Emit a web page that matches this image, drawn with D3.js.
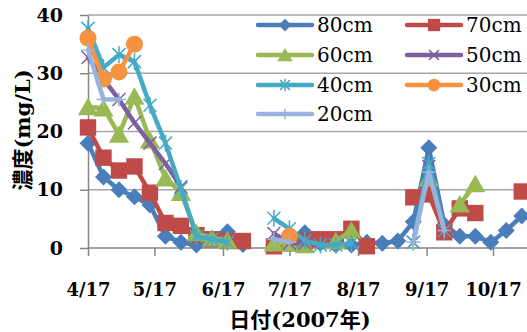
<!DOCTYPE html>
<html>
<head>
<meta charset="utf-8">
<script src="https://cdn.jsdelivr.net/npm/d3@7"></script>
<style>
  html, body { margin: 0; background: #fff; }
  svg { display: block; }
</style>
</head>
<body>
<svg id="chart" width="527" height="332"></svg>
<script>
// weekly sampling dates
const sampleDates = [
  "2007-04-17", "2007-04-24", "2007-05-01", "2007-05-08", "2007-05-15", "2007-05-22", "2007-05-29",
  "2007-06-05", "2007-06-12", "2007-06-19", "2007-06-26", "2007-07-03", "2007-07-10", "2007-07-17",
  "2007-07-24", "2007-07-31", "2007-08-07", "2007-08-14", "2007-08-21", "2007-08-28", "2007-09-04",
  "2007-09-11", "2007-09-18", "2007-09-25", "2007-10-02", "2007-10-09", "2007-10-16", "2007-10-23",
  "2007-10-30"
];
const tickDates = ["2007-04-17", "2007-05-17", "2007-06-17", "2007-07-17", "2007-08-17", "2007-09-17", "2007-10-17"];
const yTicks = [0, 10, 20, 30, 40];

// concentration (mg/L) by depth, null = no sample
const conc80 = [18, 12.2, 10, 8.8, 7.4, 2, 1, 0.5, 1.5, 2.8, 0.6, null, 0.5, 1, 2.6, 0.8, 0.5, 0.5, 1, 0.8, 1.2, 4.5, 17.2, 4, 2, 2, 1, 3, 5.5];
const conc70 = [20.7, 15.5, 13.3, 14, 9.5, 4.3, 3.8, 2.2, 1.5, 1.2, 1.2, null, 0.3, 0.8, 1.2, 1.5, 1.5, 3.3, 0.3, null, null, 8.7, 9.2, 2.7, 6.8, 6, null, null, 9.7];
const conc60 = [24.2, 24, 19.5, 26, 18.5, 12, 9.5, 2.6, 1.7, 1.3, null, null, 0.8, 0.8, 0.5, null, 1.2, 3, null, null, null, null, 12, null, 7.5, 11, null, null, null];
const conc50 = [32.7, 29, 25.5, 21.5, 18, 14.5, 10.5, null, null, null, null, null, 2.5, 0.8, 0.8, null, null, null, null, null, null, 1, 14, null, null, null, null, null, null];
const conc40 = [37.7, 31, 33.2, 32, 24.5, 18, 10.2, 2, 1.5, 1, null, null, 5.1, 3.3, 1.3, 0.5, 0.5, 0.8, null, null, null, 1, 14.5, 3, null, null, null, null, null];
const conc30 = [36, 29, 30.2, 35, null, null, null, null, null, null, null, null, null, 2, null, null, null, null, null, null, null, null, null, null, null, null, null, null, null];
const conc20 = [34, 25.5, 25.5, null, null, null, null, null, null, null, null, null, 1.5, 1, null, null, null, null, null, null, null, 1, 13, 3, null, null, null, null, null];

const depthLabels = ["80cm", "70cm", "60cm", "50cm", "40cm", "30cm", "20cm"];

// marker shapes (Excel style)
const diamond = { draw(ctx, s) { const r = s; ctx.moveTo(0, -r); ctx.lineTo(r, 0); ctx.lineTo(0, r); ctx.lineTo(-r, 0); ctx.closePath(); } };
const square = { draw(ctx, s) { const r = s; ctx.rect(-r, -r, 2 * r, 2 * r); } };
const triangle = { draw(ctx, s) { const r = s; ctx.moveTo(0, -r); ctx.lineTo(r * 1.1, r * 0.9); ctx.lineTo(-r * 1.1, r * 0.9); ctx.closePath(); } };
const xMark = { draw(ctx, s) { const r = s; ctx.moveTo(-r, -r); ctx.lineTo(r, r); ctx.moveTo(r, -r); ctx.lineTo(-r, r); } };
const star = { draw(ctx, s) { const r = s; xMark.draw(ctx, s); ctx.moveTo(0, -r * 1.3); ctx.lineTo(0, r * 1.3); } };
const circle = { draw(ctx, s) { ctx.moveTo(s, 0); ctx.arc(0, 0, s, 0, 2 * Math.PI); } };
const plus = { draw(ctx, s) { const r = s; ctx.moveTo(-r, 0); ctx.lineTo(r, 0); ctx.moveTo(0, -r); ctx.lineTo(0, r); } };

const series = [
  { name: depthLabels[0], values: conc80, color: "#4a7ebb", shape: diamond, size: 8.5, filled: true },
  { name: depthLabels[1], values: conc70, color: "#be4b48", shape: square, size: 8.2, filled: true },
  { name: depthLabels[2], values: conc60, color: "#98b954", shape: triangle, size: 9.2, filled: true },
  { name: depthLabels[3], values: conc50, color: "#7d60a0", shape: xMark, size: 6.5, filled: false },
  { name: depthLabels[4], values: conc40, color: "#46aac5", shape: star, size: 6.5, filled: false },
  { name: depthLabels[5], values: conc30, color: "#f69240", shape: circle, size: 8.5, filled: true },
  { name: depthLabels[6], values: conc20, color: "#98b4de", shape: plus, size: 7, filled: false }
];

const parse = d3.timeParse("%Y-%m-%d");
const serif = "'DejaVu Serif', 'Noto Sans CJK JP', serif";
const axisColor = "#868686";
const gridColor = "#a6a6a6";

const svg = d3.select("#chart");

const x = d3.scaleTime()
  .domain([parse("2007-04-17"), parse("2007-10-17")])
  .range([88, 493]);
const y = d3.scaleLinear()
  .domain([0, 40])
  .range([248, 15]);
const plotRight = 527;

// gridlines
svg.append("g")
  .selectAll("line")
  .data(yTicks.filter(d => d > 0))
  .join("line")
  .attr("x1", x.range()[0])
  .attr("x2", plotRight)
  .attr("y1", d => y(d))
  .attr("y2", d => y(d))
  .attr("stroke", gridColor)
  .attr("stroke-width", 1.5);

// y axis
const yAxis = svg.append("g")
  .attr("transform", `translate(${x.range()[0]},0)`)
  .call(d3.axisLeft(y).tickValues(yTicks).tickSize(8).tickSizeOuter(0).tickPadding(17));
yAxis.select(".domain").attr("stroke", axisColor).attr("stroke-width", 1.5);
yAxis.selectAll(".tick line").attr("stroke", axisColor).attr("stroke-width", 1.5);
yAxis.selectAll("text")
  .attr("fill", "#000")
  .style("font-family", serif)
  .style("font-weight", "bold")
  .style("font-size", "19px");

// x axis
const xAxis = svg.append("g")
  .attr("transform", `translate(0,${y(0)})`)
  .call(d3.axisBottom(x)
    .tickValues(tickDates.map(parse))
    .tickSize(8)
    .tickSizeOuter(0)
    .tickPadding(27)
    .tickFormat(d3.timeFormat("%-m/%-d")));
xAxis.select(".domain").remove();
xAxis.append("line")
  .attr("x1", x.range()[0])
  .attr("x2", plotRight)
  .attr("stroke", axisColor)
  .attr("stroke-width", 1.5);
xAxis.selectAll(".tick line").attr("stroke", axisColor).attr("stroke-width", 1.5);
xAxis.selectAll("text")
  .attr("fill", "#000")
  .style("font-family", serif)
  .style("font-weight", "bold")
  .style("font-size", "18px");

// axis titles
svg.append("text")
  .attr("x", 300)
  .attr("y", 327)
  .attr("text-anchor", "middle")
  .style("font-family", serif)
  .style("font-weight", "bold")
  .style("font-size", "21px")
  .text("日付(2007年)");

svg.append("text")
  .attr("transform", "translate(30,130) rotate(-90)")
  .attr("text-anchor", "middle")
  .style("font-family", serif)
  .style("font-weight", "bold")
  .style("font-size", "21px")
  .text("濃度(mg/L)");

// series
const dates = sampleDates.map(parse);
const line = d3.line()
  .defined(d => d.v != null)
  .x(d => x(d.date))
  .y(d => y(d.v));

function drawMarker(sel, s, scale) {
  sel.append("path")
    .attr("d", d3.symbol().type(s.shape).size(s.size * scale))
    .attr("fill", s.filled ? s.color : "none")
    .attr("stroke", s.color)
    .attr("stroke-width", s.filled ? 0 : 1.5);
}

series.forEach(s => {
  const pts = s.values.map((v, i) => ({ date: dates[i], v }));
  const g = svg.append("g").attr("class", "series");
  g.append("path")
    .datum(pts)
    .attr("d", line)
    .attr("fill", "none")
    .attr("stroke", s.color)
    .attr("stroke-width", 4.5)
    .attr("stroke-linejoin", "round")
    .attr("stroke-linecap", "round");
  g.selectAll("g.mk")
    .data(pts.filter(d => d.v != null))
    .join("g")
    .attr("class", "mk")
    .attr("transform", d => `translate(${x(d.date)},${y(d.v)})`)
    .each(function () { drawMarker(d3.select(this), s, 1); });
});

// legend: two columns, four rows
const legend = svg.append("g");
const colX = [258, 407];
const rowY = [25, 55, 85, 114];
series.forEach((s, i) => {
  const lg = legend.append("g")
    .attr("transform", `translate(${colX[i % 2]},${rowY[Math.floor(i / 2)]})`);
  lg.append("line")
    .attr("x1", 0).attr("x2", 54)
    .attr("stroke", s.color)
    .attr("stroke-width", 4.5)
    .attr("stroke-linecap", "round");
  const m = lg.append("g").attr("transform", "translate(27,0)");
  drawMarker(m, s, 0.75);
  lg.append("text")
    .attr("x", 59)
    .attr("dy", "0.36em")
    .style("font-family", serif)
    .style("font-size", "20px")
    .text(s.name);
});
</script>
</body>
</html>
